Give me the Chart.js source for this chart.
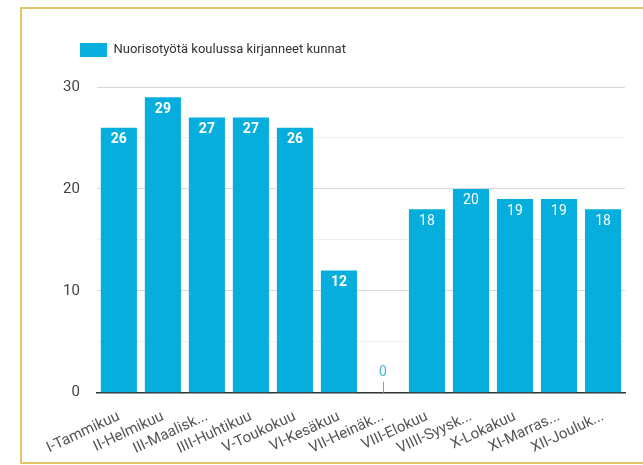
<!DOCTYPE html>
<html><head><meta charset="utf-8">
<script src="https://cdn.jsdelivr.net/npm/chart.js@4"></script>
<style>
html,body{margin:0;padding:0;background:#fff;}
#wrap{position:relative;width:643px;height:465px;overflow:hidden;}
#frame{position:absolute;left:20px;top:7px;width:640px;height:453px;border:2px solid #e3c565;box-sizing:content-box;}
canvas{position:absolute;left:0;top:0;}
</style></head>
<body><div id="wrap"><div id="frame"></div><canvas id="c" width="643" height="465"></canvas></div>
<script>
const categories = ["I-Tammikuu","II-Helmikuu","III-Maalisk...","IIII-Huhtikuu","V-Toukokuu","VI-Kesäkuu","VII-Heinäk...","VIII-Elokuu","VIIII-Syysk...","X-Lokakuu","XI-Marras...","XII-Jouluk..."];
const values = [26,29,27,27,26,12,0,18,20,19,19,18];
const seriesName = "Nuorisotyötä koulussa kirjanneet kunnat";
const yTicks = [0,10,20,30];

const barColor = "#06aede";
const labelPlugin = {
  id:'vals',
  beforeInit(chart){
    const lg = chart.legend;
    const orig = lg.fit;
    lg.fit = function(){ orig.call(this); this.height += 20; };
  },
  afterDatasetsDraw(chart){
    const ctx = chart.ctx;
    const meta = chart.getDatasetMeta(0);
    ctx.save();
    ctx.font = "bold 14px Roboto";
    ctx.textAlign = "center";
    ctx.textBaseline = "middle";
    meta.data.forEach((bar,i)=>{
      const v = values[i];
      if (v > 0) {
        ctx.fillStyle = "#fff";
        ctx.fillText(String(v), bar.x, bar.y + 12);
      } else {
        ctx.strokeStyle = "#999";
        ctx.lineWidth = 1;
        ctx.beginPath();
        ctx.moveTo(Math.round(bar.x)+0.5, bar.y);
        ctx.lineTo(Math.round(bar.x)+0.5, bar.y - 11);
        ctx.stroke();
        ctx.font = "14px Roboto";
        ctx.fillStyle = "#4ab3d8";
        ctx.fillText(String(v), bar.x, bar.y - 20);
      }
    });
    ctx.restore();
  }
};

new Chart(document.getElementById('c'), {
  type:'bar',
  data:{labels:categories, datasets:[{label:seriesName, data:values, backgroundColor:barColor, categoryPercentage:0.82, barPercentage:1.0}]},
  options:{
    responsive:false, animation:false,
    layout:{padding:{left:46,right:18,top:9,bottom:0}},
    plugins:{
      legend:{position:'top', align:'start',
        labels:{boxWidth:27, boxHeight:14, color:'#333', font:{family:'Roboto', size:13}, padding:34}},
      tooltip:{enabled:false}
    },
    scales:{
      x:{grid:{display:false}, border:{display:true,color:'#333',width:1.5},
        afterFit:(s)=>{ s.paddingLeft = 0; },
        ticks:{color:'#555', font:{family:'Roboto', size:15}, maxRotation:25, minRotation:25, autoSkip:false, padding:7}},
      y:{min:0,max:30,
        ticks:{stepSize:5, color:'#444', font:{family:'Roboto', size:15}, padding:17,
          callback:(v)=> yTicks.includes(v) ? String(v) : ''},
        grid:{color:(c)=> (c.tick && c.tick.value % 10 === 0) ? '#d8d8d8' : '#eeeeee', drawTicks:false},
        border:{display:false}}
    }
  },
  plugins:[labelPlugin]
});
</script></body></html>
